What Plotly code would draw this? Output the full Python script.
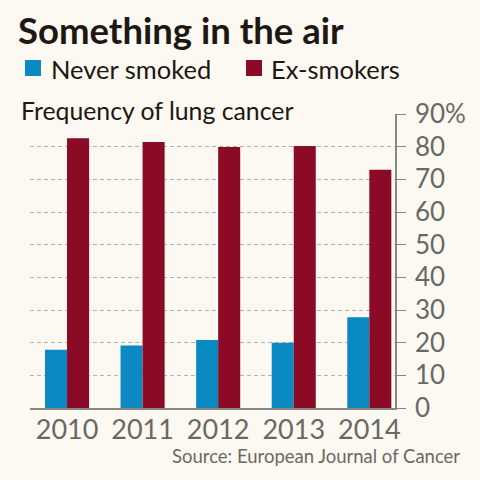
import plotly.graph_objects as go

years = ["2010", "2011", "2012", "2013", "2014"]
never_smoked = [17.8, 19.1, 20.8, 20.0, 27.8]
ex_smokers = [82.6, 81.4, 79.9, 80.2, 72.9]
y_tickvals = [0, 10, 20, 30, 40, 50, 60, 70, 80, 90]
y_ticktext = ["0", "10", "20", "30", "40", "50", "60", "70", "80", "90%"]

BG = "#fbf9f2"
BLUE = "#0a89c3"
RED = "#8b0b26"
GRAY = "#6b6863"
DARK = "#1e1712"

W, H = 480, 480
L, R, T, B = 30, 85, 114, 72

def px(x):
    return (x - L) / (W - L - R)

def py(y):
    return (H - B - y) / (H - T - B)

fig = go.Figure()
fig.add_trace(go.Bar(x=years, y=never_smoked, name="Never smoked",
                     marker=dict(color=BLUE, line=dict(width=0)), showlegend=False))
fig.add_trace(go.Bar(x=years, y=ex_smokers, name="Ex-smokers",
                     marker=dict(color=RED, line=dict(width=0)), showlegend=False))

font_family = "Lato, 'Open Sans', sans-serif"

fig.update_layout(
    width=W, height=H,
    margin=dict(l=L, r=R, t=T, b=B),
    paper_bgcolor=BG, plot_bgcolor=BG,
    barmode="group", bargap=0.417, bargroupgap=0,
    font=dict(family=font_family, color=GRAY),
    xaxis=dict(
        type="category", range=[-0.49, 4.34],
        showgrid=False, zeroline=False,
        showline=True, linecolor="#8a8782", linewidth=1.5,
        ticks="", tickfont=dict(size=27, color=GRAY),
        ticklabelstandoff=-3,
        fixedrange=True,
    ),
    yaxis=dict(
        side="right", range=[0, 90],
        tickvals=y_tickvals, ticktext=y_ticktext,
        showgrid=True, gridcolor="#b5b2ac", griddash="4px,3px", gridwidth=1,
        zeroline=False,
        showline=True, linecolor="#8a8782", linewidth=1.5,
        ticks="outside", ticklen=9, tickcolor="#8a8782", tickwidth=1.2,
        ticklabelstandoff=4,
        tickfont=dict(size=26, color=GRAY),
        fixedrange=True,
    ),
    showlegend=False,
)

annotations = [
    dict(text="<b>Something in the air</b>", x=px(16), y=py(30), xref="paper", yref="paper",
         xanchor="left", yanchor="middle", showarrow=False,
         font=dict(size=36.5, color=DARK, family=font_family, weight=900)),
    dict(text="Never smoked", x=px(49), y=py(69), xref="paper", yref="paper",
         xanchor="left", yanchor="middle", showarrow=False,
         font=dict(size=25.5, color=DARK, family=font_family)),
    dict(text="Ex-smokers", x=px(269), y=py(69), xref="paper", yref="paper",
         xanchor="left", yanchor="middle", showarrow=False,
         font=dict(size=25.5, color=DARK, family=font_family)),
    dict(text="Frequency of lung cancer", x=px(20), y=py(110), xref="paper", yref="paper",
         xanchor="left", yanchor="middle", showarrow=False, bgcolor=BG,
         width=310, align="left", borderpad=0,
         font=dict(size=24.8, color=DARK, family=font_family)),
    dict(text="Source: European Journal of Cancer", x=px(462), y=py(456), xref="paper", yref="paper",
         xanchor="right", yanchor="middle", showarrow=False,
         font=dict(size=18.5, color=GRAY, family=font_family)),
]
fig.update_layout(annotations=annotations)

fig.add_shape(type="rect", xref="paper", yref="paper",
              x0=px(25), x1=px(41), y0=py(76), y1=py(60),
              fillcolor=BLUE, line=dict(width=0))
fig.add_shape(type="rect", xref="paper", yref="paper",
              x0=px(246), x1=px(262), y0=py(76), y1=py(60),
              fillcolor=RED, line=dict(width=0))

fig.write_html("out.html", config={"displayModeBar": False},
               post_script="document.body.style.margin='0';document.body.style.background='#fbf9f2';")
